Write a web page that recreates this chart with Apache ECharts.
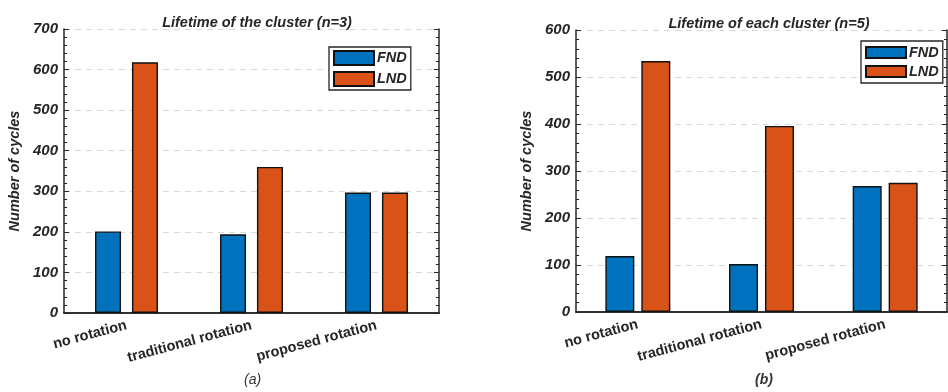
<!DOCTYPE html>
<html>
<head>
<meta charset="utf-8">
<script src="https://cdn.jsdelivr.net/npm/echarts@6/dist/echarts.min.js"></script>
<style>
  html, body { margin: 0; padding: 0; background: #fff; }
  #chart { width: 948px; height: 392px; }
</style>
</head>
<body>
<div id="chart"></div>
<script>
var myChart = echarts.init(document.getElementById('chart'));

// data
const categories = ['no rotation', 'traditional rotation', 'proposed rotation'];
const fndA = [201, 194, 297];
const lndA = [618, 360, 297];
const fndB = [119, 102, 268];
const lndB = [534, 396, 275];
const titleA = 'Lifetime of the cluster (n=3)';
const titleB = 'Lifetime of each cluster (n=5)';

const FONT = '"Liberation Sans", Arial, Helvetica, sans-serif';
const AXIS_COLOR = '#262626';
const BLUE = '#0072BD';
const ORANGE = '#D95319';

const boldItalic = (size) => ({
    fontFamily: FONT, fontSize: size, fontWeight: 'bold', fontStyle: 'italic', color: AXIS_COLOR
});

// bottom + top category axes for one grid
const xAxes = (gridIndex) => [
    {
        type: 'category', gridIndex: gridIndex, position: 'bottom', data: categories,
        axisLine: { lineStyle: { color: AXIS_COLOR, width: 1.5 } },
        axisTick: { inside: true, alignWithLabel: true, length: 4, lineStyle: { color: AXIS_COLOR } },
        axisLabel: { rotate: 15, margin: 12, fontFamily: FONT, fontSize: 14.5, fontWeight: 'bold', color: AXIS_COLOR }
    },
    {
        type: 'category', gridIndex: gridIndex, position: 'top', data: categories,
        axisLine: { lineStyle: { color: AXIS_COLOR, width: 1.5 } },
        axisTick: { inside: true, alignWithLabel: true, length: 4, lineStyle: { color: AXIS_COLOR } },
        axisLabel: { show: false }
    }
];

// left + right value axes for one grid
const yAxes = (gridIndex, max) => [
    {
        type: 'value', gridIndex: gridIndex, position: 'left', min: 0, max: max, interval: 100,
        name: 'Number of cycles', nameLocation: 'middle', nameGap: 42,
        nameTextStyle: boldItalic(14.5),
        axisLine: { show: true, lineStyle: { color: AXIS_COLOR, width: 1.5 } },
        axisTick: { show: true, inside: true, length: 5, lineStyle: { color: AXIS_COLOR } },
        minorTick: { show: true, splitNumber: 5, length: 3, lineStyle: { color: AXIS_COLOR } },
        axisLabel: Object.assign({ margin: 6 }, boldItalic(15)),
        splitLine: { show: true, lineStyle: { color: '#d9d9d9', type: [6, 5], width: 1 } }
    },
    {
        type: 'value', gridIndex: gridIndex, position: 'right', min: 0, max: max, interval: 100,
        axisLine: { show: true, lineStyle: { color: AXIS_COLOR, width: 1.5 } },
        axisTick: { show: true, inside: true, length: 5, lineStyle: { color: AXIS_COLOR } },
        minorTick: { show: true, splitNumber: 5, length: 3, lineStyle: { color: AXIS_COLOR } },
        axisLabel: { show: false },
        splitLine: { show: false }
    }
];

const barSeries = (name, data, color, xi, yi, width, gap) => ({
    name: name, type: 'bar', data: data,
    xAxisIndex: xi, yAxisIndex: yi,
    barWidth: width, barGap: gap,
    itemStyle: { color: color, borderColor: '#111', borderWidth: 1.4 },
    emphasis: { disabled: true }
});

const legendBox = (left, top, itemHeight, gap, pad) => ({
    left: left, top: top, orient: 'vertical',
    data: ['FND', 'LND'],
    icon: 'rect',
    itemWidth: 40, itemHeight: itemHeight, itemGap: gap,
    padding: [pad, 4, pad, 4],
    borderColor: AXIS_COLOR, borderWidth: 1.3, backgroundColor: '#fff',
    textStyle: Object.assign({ padding: [0, 0, 0, -2] }, boldItalic(14.5)),
    selectedMode: false
});

option = {
    animation: false,
    backgroundColor: '#fff',
    title: [
        { text: titleA, left: 252, top: 10, textAlign: 'center', textStyle: boldItalic(14.5) },
        { text: titleB, left: 764, top: 11, textAlign: 'center', textStyle: boldItalic(14.5) }
    ],
    grid: [
        { left: 64, top: 29, width: 375, height: 284, show: false },
        { left: 576, top: 30, width: 371, height: 282, show: false }
    ],
    legend: [
        legendBox(329, 47, 14, 5, 3),
        legendBox(861, 41, 11, 4, 4)
    ],
    xAxis: xAxes(0).concat(xAxes(1)),
    yAxis: yAxes(0, 700).concat(yAxes(1, 600)),
    series: [
        barSeries('FND', fndA, BLUE, 0, 0, 26, '42%'),
        barSeries('LND', lndA, ORANGE, 0, 0, 26, '42%'),
        barSeries('FND', fndB, BLUE, 2, 2, 29, '24%'),
        barSeries('LND', lndB, ORANGE, 2, 2, 29, '24%')
    ],
    graphic: [
        { type: 'text', left: 244, top: 373, style: { text: '(a)', font: 'italic 14px ' + FONT, fill: '#333' } },
        { type: 'text', left: 755, top: 373, style: { text: '(b)', font: 'italic bold 14px ' + FONT, fill: '#333' } }
    ]
};

myChart.setOption(option);
</script>
</body>
</html>
